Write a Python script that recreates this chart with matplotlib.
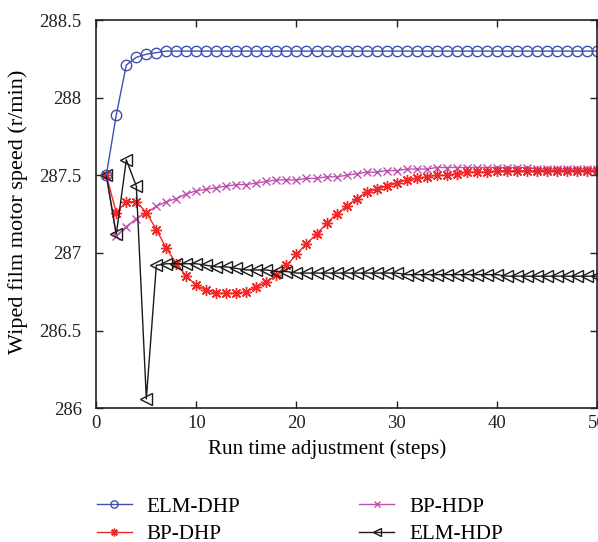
import matplotlib
matplotlib.use("Agg")
import matplotlib.pyplot as plt
import numpy as np

plt.rcParams['font.family'] = ['Liberation Serif', 'DejaVu Serif']

steps = np.arange(1, 51)

elm_dhp = [287.50, 287.89, 288.21, 288.26, 288.28, 288.29, 288.30, 288.30, 288.30, 288.30,
           288.30, 288.30, 288.30, 288.30, 288.30, 288.30, 288.30, 288.30, 288.30, 288.30,
           288.30, 288.30, 288.30, 288.30, 288.30, 288.30, 288.30, 288.30, 288.30, 288.30,
           288.30, 288.30, 288.30, 288.30, 288.30, 288.30, 288.30, 288.30, 288.30, 288.30,
           288.30, 288.30, 288.30, 288.30, 288.30, 288.30, 288.30, 288.30, 288.30, 288.30]

bp_dhp = [287.50, 287.26, 287.33, 287.33, 287.26, 287.15, 287.03, 286.93, 286.85, 286.79,
          286.76, 286.74, 286.74, 286.74, 286.75, 286.78, 286.81, 286.86, 286.92, 286.99,
          287.06, 287.12, 287.19, 287.25, 287.30, 287.35, 287.39, 287.41, 287.43, 287.45,
          287.47, 287.48, 287.49, 287.50, 287.50, 287.51, 287.52, 287.52, 287.52, 287.53,
          287.53, 287.53, 287.53, 287.53, 287.53, 287.53, 287.53, 287.53, 287.53, 287.53]

bp_hdp = [287.50, 287.11, 287.17, 287.22, 287.26, 287.30, 287.33, 287.35, 287.38, 287.40,
          287.41, 287.42, 287.43, 287.44, 287.44, 287.45, 287.46, 287.47, 287.47, 287.47,
          287.48, 287.48, 287.49, 287.49, 287.50, 287.51, 287.52, 287.52, 287.53, 287.53,
          287.54, 287.54, 287.54, 287.55, 287.55, 287.55, 287.55, 287.55, 287.55, 287.55,
          287.55, 287.55, 287.55, 287.54, 287.54, 287.54, 287.54, 287.54, 287.54, 287.54]

elm_hdp = [287.50, 287.12, 287.60, 287.43, 286.06, 286.92, 286.93, 286.93, 286.93, 286.93,
           286.92, 286.91, 286.91, 286.90, 286.89, 286.89, 286.89, 286.88, 286.88, 286.87,
           286.87, 286.87, 286.87, 286.87, 286.87, 286.87, 286.87, 286.87, 286.87, 286.87,
           286.86, 286.86, 286.86, 286.86, 286.86, 286.86, 286.86, 286.86, 286.86, 286.86,
           286.85, 286.85, 286.85, 286.85, 286.85, 286.85, 286.85, 286.85, 286.85, 286.85]

fs = 13.5   # tick labels
lfs = 15.2  # axis labels and legend

fig = plt.figure(figsize=(5.98, 5.42), dpi=100)
ax = fig.add_axes([0.161, 0.247, 0.837, 0.716])

l_bph, = ax.plot(steps, bp_hdp, color='#c050b0', lw=1, marker='x', ms=6, mew=1,
                 label='BP-HDP')
l_bpd, = ax.plot(steps, bp_dhp, color='#f02828', lw=1, marker=(8, 2, 0), ms=8, mew=1,
                 label='BP-DHP')
l_elh, = ax.plot(steps, elm_hdp, color='#1a1a1a', lw=1, marker='<', ms=9, mew=1,
                 mfc='none', label='ELM-HDP')
l_eld, = ax.plot(steps, elm_dhp, color='#3f51ad', lw=1, marker='o', ms=7.5, mew=1,
                 mfc='none', label='ELM-DHP')

ax.set_xlim(0, 50)
ax.set_ylim(286, 288.5)
ax.set_xticks([0, 10, 20, 30, 40, 50])
ax.set_yticks([286, 286.5, 287, 287.5, 288, 288.5])
ax.set_yticklabels(['286', '286.5', '287', '287.5', '288', '288.5'])
ax.tick_params(direction='in', top=True, right=True, labelsize=fs, length=5,
               width=1, pad=5, colors='#222222')
ax.tick_params(axis='y', pad=10.5)
for s in ax.spines.values():
    s.set_linewidth(1.2)
    s.set_color('#222222')

ax.set_xlabel('Run time adjustment (steps)', fontsize=lfs)
ax.set_ylabel('Wiped film motor speed (r/min)', fontsize=lfs + 0.8)
ax.xaxis.set_label_coords(0.461, -0.08)
ax.yaxis.set_label_coords(-0.136, 0.507)

fig.legend([l_eld, l_bpd, l_bph, l_elh], ['ELM-DHP', 'BP-DHP', 'BP-HDP', 'ELM-HDP'],
           ncol=2, frameon=False, fontsize=lfs, loc='upper left',
           bbox_to_anchor=(0.13, 0.118), handlelength=1.65, handletextpad=0.7,
           columnspacing=5.65, labelspacing=0.35, markerscale=0.7)

fig.savefig('out.png', dpi=100)
